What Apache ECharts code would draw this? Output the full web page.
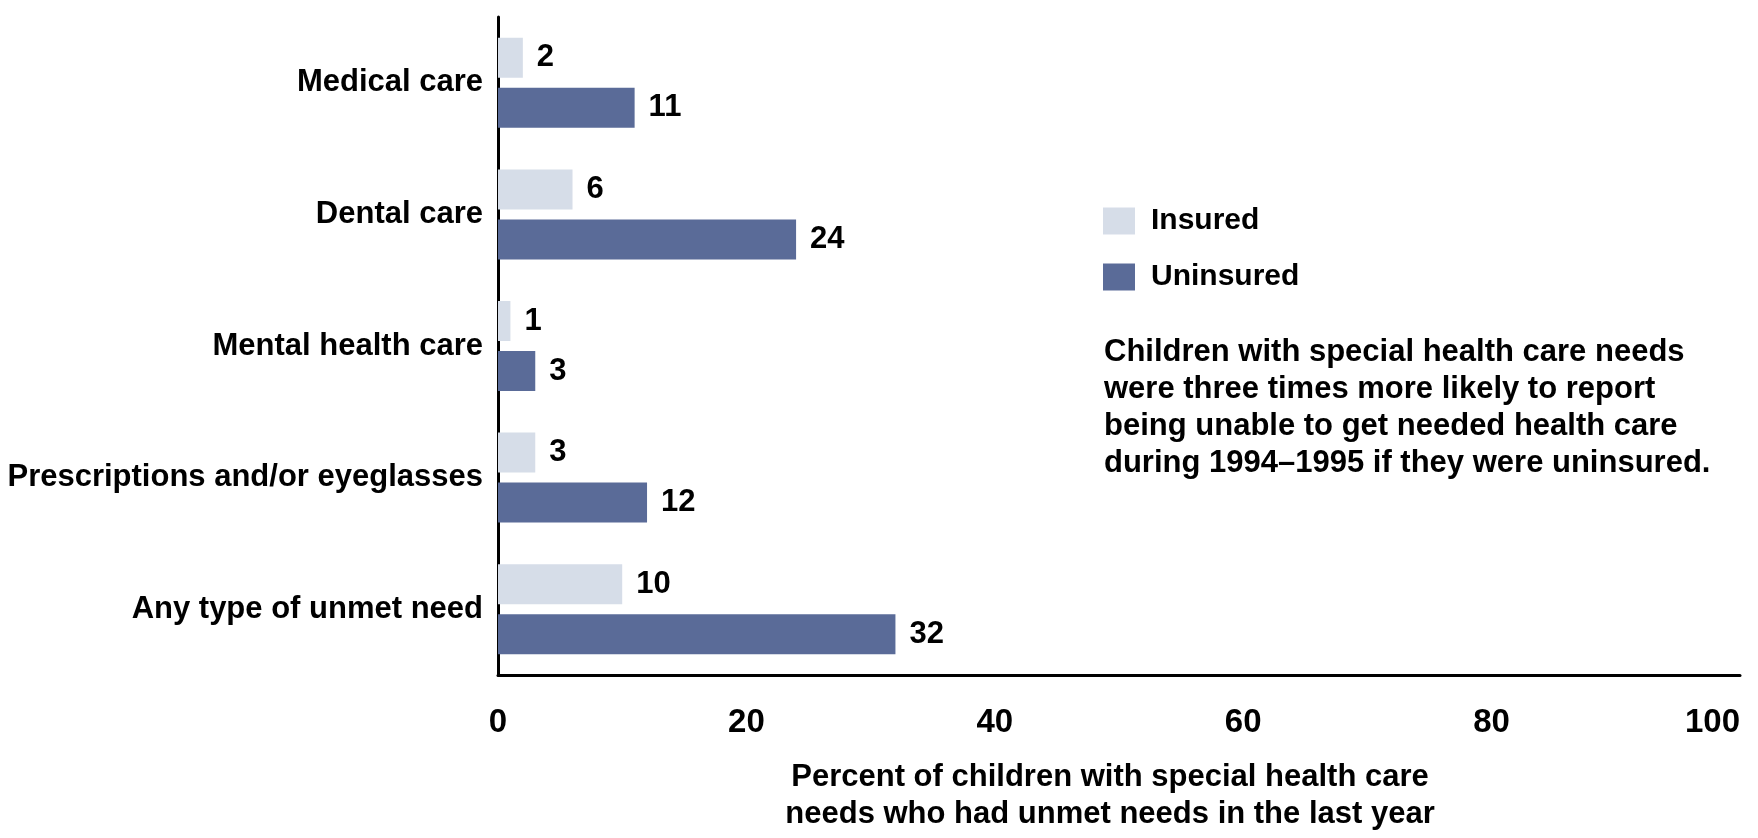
<!DOCTYPE html>
<html lang="en">
    <head>
        <title>Unmet needs</title>
        <meta charset="utf-8">
        <script src='https://cdn.jsdelivr.net/npm/echarts@6/dist/echarts.min.js'></script>
    </head>

    <style>
        html, body {
            margin: 0;
            background: #fff;
        }

        #main {
            width: 1758px;
            height: 838px;
        }
    </style>

    <body>
        <div id='main'></div>

        <script>
            const categories = ['Medical care', 'Dental care', 'Mental health care',
                'Prescriptions and/or eyeglasses', 'Any type of unmet need'];
            const insured = [2, 6, 1, 3, 10];
            const uninsured = [11, 24, 3, 12, 32];
            const xTicks = [0, 20, 40, 60, 80, 100];

            const font = '"Liberation Sans", Arial, sans-serif';

            const chart = echarts.init(document.getElementById('main'));

            const labelStyle = {
                show: true,
                position: 'right',
                distance: 14,
                color: '#000',
                fontFamily: font,
                fontWeight: 'bold',
                fontSize: 31
            };

            const option = {
                animation: false,
                title: {
                    text: 'Children with special health care needs\nwere three times more likely to report\nbeing unable to get needed health care\nduring 1994\u20131995 if they were uninsured.',
                    left: 1099,
                    top: 329,
                    textStyle: {
                        fontFamily: font,
                        fontWeight: 'bold',
                        fontSize: 31,
                        lineHeight: 37,
                        color: '#000'
                    }
                },
                legend: {
                    orient: 'vertical',
                    left: 1098,
                    top: 201,
                    padding: 5,
                    itemWidth: 32,
                    itemHeight: 27,
                    itemGap: 26,
                    icon: 'rect',
                    textStyle: {
                        fontFamily: font,
                        fontWeight: 'bold',
                        fontSize: 30,
                        lineHeight: 27,
                        color: '#000',
                        padding: [0, 0, 0, 11]
                    },
                    data: ['Insured', 'Uninsured']
                },
                grid: {
                    left: 498,
                    right: 18,
                    top: 17,
                    bottom: 150,
                    containLabel: false
                },
                xAxis: {
                    type: 'value',
                    min: 0,
                    max: 100,
                    interval: 20,
                    name: 'Percent of children with special health care\nneeds who had unmet needs in the last year',
                    nameLocation: 'middle',
                    nameGap: 84,
                    nameTextStyle: {
                        fontFamily: font,
                        fontWeight: 'bold',
                        fontSize: 31,
                        lineHeight: 37,
                        color: '#000',
                        padding: [0, 18, 0, 0]
                    },
                    axisLine: { show: true, lineStyle: { color: '#000', width: 3 } },
                    axisTick: { show: false },
                    splitLine: { show: false },
                    axisLabel: {
                        margin: 31,
                        color: '#000',
                        fontFamily: font,
                        fontWeight: 'bold',
                        fontSize: 33,
                        alignMaxLabel: 'right',
                        formatter: v => xTicks.includes(v) ? String(v) : ''
                    }
                },
                yAxis: {
                    type: 'category',
                    inverse: true,
                    data: categories,
                    axisLine: { show: true, lineStyle: { color: '#000', width: 3 } },
                    axisTick: { show: false },
                    axisLabel: {
                        margin: 15,
                        color: '#000',
                        fontFamily: font,
                        fontWeight: 'bold',
                        fontSize: 31
                    }
                },
                series: [
                    {
                        name: 'Insured',
                        type: 'bar',
                        data: insured,
                        barWidth: 40,
                        barGap: '25%',
                        itemStyle: { color: '#D6DDE8' },
                        label: labelStyle
                    },
                    {
                        name: 'Uninsured',
                        type: 'bar',
                        data: uninsured,
                        barWidth: 40,
                        itemStyle: { color: '#5A6B98' },
                        label: labelStyle
                    }
                ]
            };

            chart.setOption(option);
        </script>
    </body>
</html>
